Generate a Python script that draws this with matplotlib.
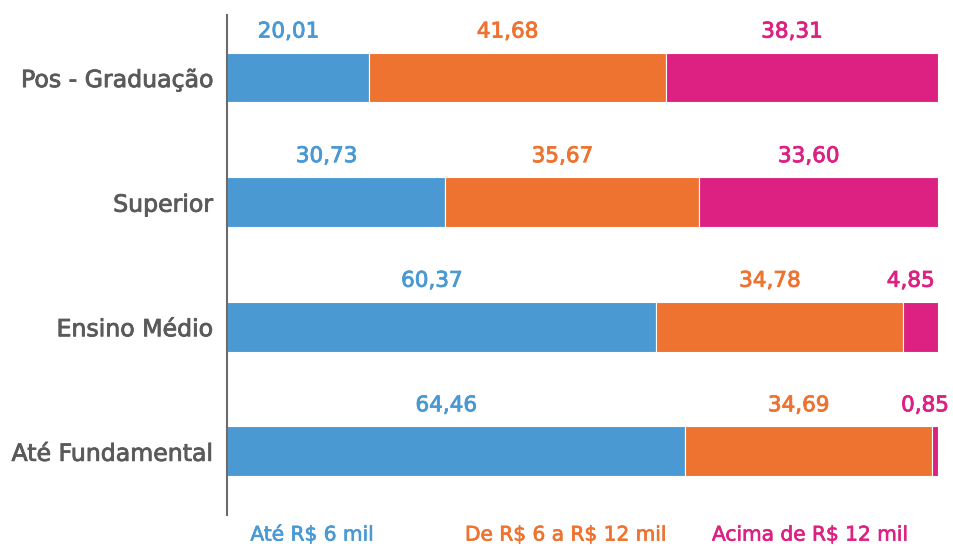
import matplotlib
matplotlib.use("Agg")
import matplotlib.pyplot as plt
import matplotlib.patheffects as pe
import numpy as np

plt.rcParams['font.family'] = ['DejaVu Sans']
plt.rcParams['text.parse_math'] = False

categories = ["Até Fundamental", "Ensino Médio", "Superior", "Pos - Graduação"]
series_names = ["Até R$ 6 mil", "De R$ 6 a R$ 12 mil", "Acima de R$ 12 mil"]
ate_6 = [64.46, 60.37, 30.73, 20.01]
de_6_a_12 = [34.69, 34.78, 35.67, 41.68]
acima_12 = [0.85, 4.85, 33.60, 38.31]
colors = ["#4A99D3", "#EE7230", "#DD2183"]


def thick(col, w=0.6):
    return [pe.withStroke(linewidth=w, foreground=col)]


fig = plt.figure(figsize=(9.54, 5.46), dpi=100)
ax = fig.add_axes([0.238, 0.057, 0.745, 0.915])

y = np.arange(len(categories))
left = np.zeros(len(categories))
for vals, col in zip([ate_6, de_6_a_12, acima_12], colors):
    vals = np.array(vals)
    ax.barh(y, vals, left=left, height=0.40, color=col, edgecolor="white", linewidth=0.8)
    for yi, l, v in zip(y, left, vals):
        ax.annotate(f"{v:.2f}".replace(".", ","), xy=(l + v / 2, yi + 0.2),
                    xytext=(-7, 8), textcoords="offset points",
                    ha="center", va="bottom", color=col, fontsize=15.5,
                    path_effects=thick(col))
    left = left + vals

ax.set_xlim(0, 100)
ax.set_ylim(-0.51, 3.5)
ax.set_yticks(y)
ax.set_yticklabels(categories, fontsize=17, color="#5a5a5a")
for t in ax.get_yticklabels():
    t.set_path_effects(thick("#5a5a5a"))
ax.tick_params(axis="y", length=0, pad=10)
ax.set_xticks([])
for s in ["top", "right", "bottom"]:
    ax.spines[s].set_visible(False)
ax.spines["left"].set_color("#6b6b6b")
ax.spines["left"].set_linewidth(1.5)

legend_x = [0.327, 0.593, 0.849]
for name, col, lx in zip(series_names, colors, legend_x):
    fig.text(lx, 0.02, name, color=col, fontsize=14.5,
             ha="center", va="center", path_effects=thick(col, 0.5))

fig.savefig("out.png", dpi=100, facecolor="white")
